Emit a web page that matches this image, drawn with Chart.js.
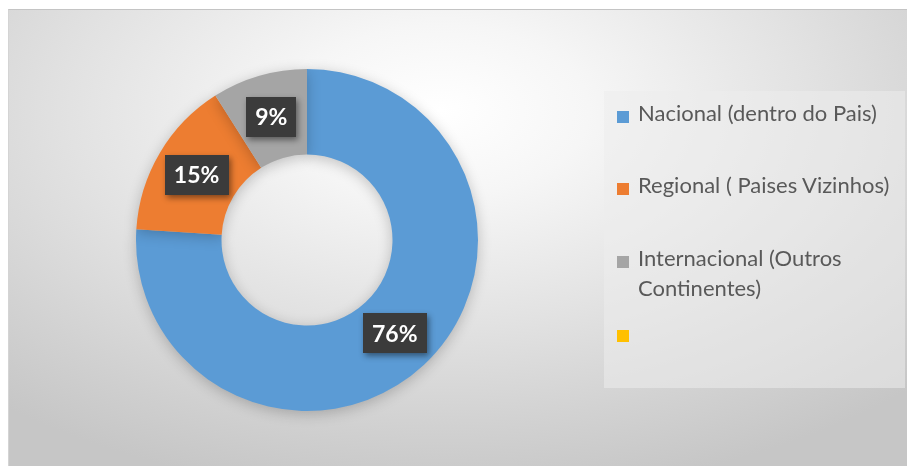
<!DOCTYPE html>
<html>
<head>
<meta charset="utf-8">
<script src="https://cdn.jsdelivr.net/npm/chart.js@4.4.0/dist/chart.umd.min.js"></script>
<style>
  body { margin: 0; background: #fff; width: 907px; height: 466px; overflow: hidden; position: relative; }
  #frame {
    position: absolute; left: 8px; top: 9px; width: 899px; height: 457px;
    border-top: 1px solid #c4c4c4; border-left: 1px solid #d4d4d4;
    background: radial-gradient(ellipse 75% 85% at 48% 22%, #ffffff 0%, #f6f6f6 22%, #e2e2e2 55%, #d2d2d2 80%, #c6c6c6 100%);
  }
  #myChart { position: absolute; left: 0; top: 0; }
  #legend {
    position: absolute; left: 604px; top: 91px; width: 301px; height: 297px;
    background: rgba(236, 236, 236, 0.55);
    font-family: Lato, "Open Sans", sans-serif; font-size: 22px; color: #595959;
  }
  .item { position: absolute; left: 13px; width: 285px; line-height: 30px; }
  .item .sw { position: absolute; left: 0; top: 13px; width: 12px; height: 12px; }
  .item .tx { display: block; margin-left: 21px; width: 262px; white-space: normal; }
</style>
</head>
<body>
<div id="frame"></div>
<canvas id="myChart" width="907" height="466"></canvas>
<div id="legend"></div>
<script>
const labels = ['Nacional (dentro do Pais)', 'Regional ( Paises Vizinhos)', 'Internacional (Outros Continentes)', ''];
const shares = [76, 15, 9, 0];
const colors = ['#5B9BD5', '#ED7D31', '#A5A5A5', '#FFC000'];
const legendTops = [7, 79, 152, 226];

// legend on the right, built from the same arrays
let legend = document.querySelector('#legend');
for (let i = 0; i < labels.length; i++) {
    let item = document.createElement('div');
    item.className = 'item';
    item.style.top = legendTops[i] + 'px';
    item.innerHTML = '<span class="sw" style="background:' + colors[i] + '"></span><span class="tx">' + (labels[i] || '&nbsp;') + '</span>';
    legend.appendChild(item);
}

// soft shadow under the ring
const ringShadow = {
    id: 'ringShadow',
    beforeDatasetsDraw(chart) {
        const ctx = chart.ctx;
        ctx.save();
        ctx.shadowColor = 'rgba(0,0,0,0.22)';
        ctx.shadowBlur = 14;
        ctx.shadowOffsetY = 3;
    },
    afterDatasetsDraw(chart) {
        chart.ctx.restore();
    }
};

// dark boxes with percentages
const boxLabels = {
    id: 'boxLabels',
    afterDatasetsDraw(chart) {
        const ctx = chart.ctx;
        const meta = chart.getDatasetMeta(0);
        ctx.save();
        ctx.font = 'bold 23px Lato, "Open Sans", sans-serif';
        ctx.textAlign = 'center';
        ctx.textBaseline = 'middle';
        meta.data.forEach((arc, i) => {
            const v = shares[i];
            if (!v) return;
            const p = arc.tooltipPosition();
            const text = v + '%';
            const w = ctx.measureText(text).width + 18;
            const h = 40;
            ctx.save();
            ctx.shadowColor = 'rgba(0,0,0,0.45)';
            ctx.shadowBlur = 6;
            ctx.shadowOffsetX = 2;
            ctx.shadowOffsetY = 3;
            ctx.fillStyle = '#3b3b3b';
            ctx.fillRect(Math.round(p.x - w / 2), Math.round(p.y - h / 2), Math.round(w), h);
            ctx.restore();
            ctx.fillStyle = '#ffffff';
            ctx.fillText(text, p.x, p.y + 1);
        });
        ctx.restore();
    }
};

const data = {
    labels: labels,
    datasets: [{
        data: shares,
        backgroundColor: colors,
        borderWidth: 0,
        hoverOffset: 0
    }]
};

const config = {
    type: 'doughnut',
    data: data,
    options: {
        responsive: false,
        animation: false,
        cutout: '50%',
        layout: {
            padding: { left: 136, right: 429, top: 69, bottom: 55 }
        },
        plugins: {
            legend: { display: false },
            tooltip: { enabled: false }
        }
    },
    plugins: [ringShadow, boxLabels]
};

var myChart = new Chart(document.getElementById('myChart'), config);
</script>
</body>
</html>
